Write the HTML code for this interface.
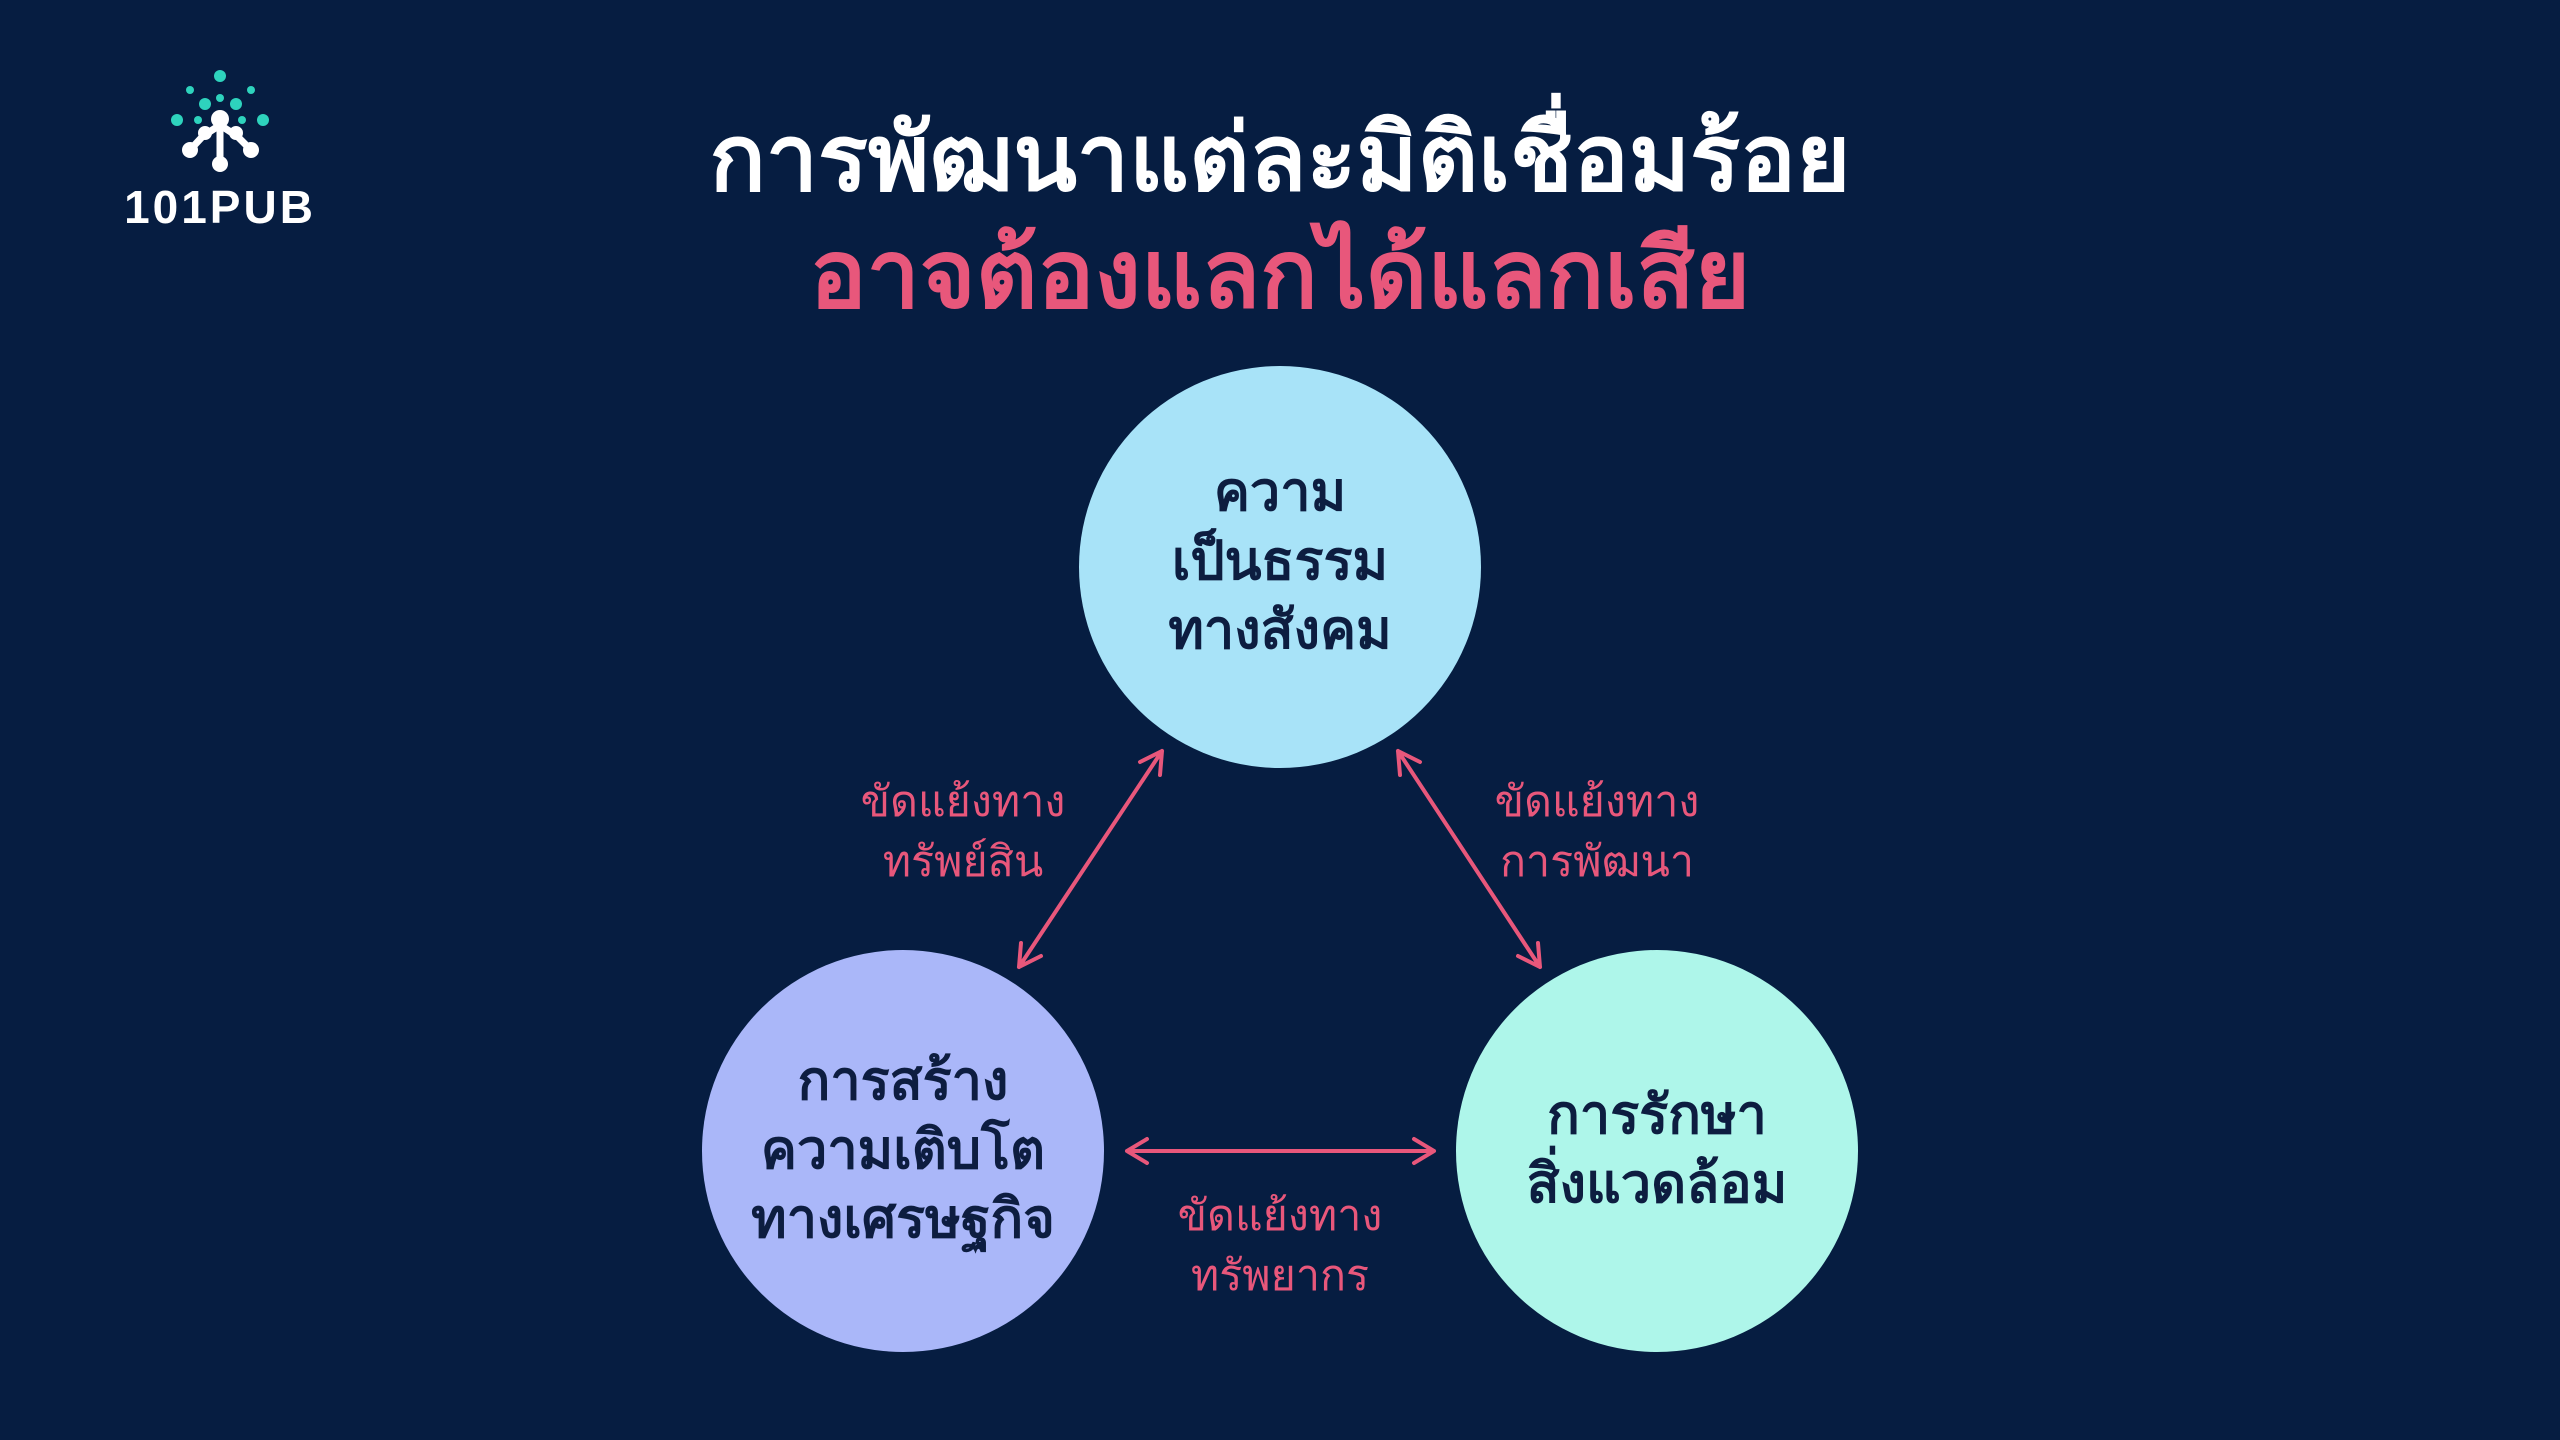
<!DOCTYPE html>
<html><head><meta charset="utf-8"><style>
body{margin:0;width:2560px;height:1440px;background:#061d41;overflow:hidden;position:relative;font-family:"Liberation Sans","Noto Sans CJK SC",sans-serif}
.t{position:absolute;left:0;width:2560px;text-align:center;font-weight:bold;line-height:1}
.c{position:absolute;width:402px;height:402px;border-radius:50%;display:flex;align-items:center;justify-content:center;text-align:center;color:#0d1d40;font-weight:bold;font-size:54px;line-height:69px;box-sizing:border-box}
.l{position:absolute;width:400px;text-align:center;color:#e8577b;font-size:43px;line-height:60px}
</style></head><body>
<div class="t" style="top:112px;color:#fff;font-size:93px">การพัฒนาแต่ละมิติเชื่อมร้อย</div>
<div class="t" style="top:228px;color:#e8577b;font-size:95px">อาจต้องแลกได้แลกเสีย</div>
<svg style="position:absolute;left:0;top:0" width="2560" height="1440">
<g fill="#2ed3bd">
<circle cx="220" cy="76" r="6"/><circle cx="190" cy="90" r="4"/><circle cx="251" cy="90" r="4"/>
<circle cx="205" cy="104" r="6"/><circle cx="220" cy="98" r="4"/><circle cx="236" cy="104" r="6"/>
<circle cx="177" cy="120" r="6"/><circle cx="198" cy="120" r="4"/><circle cx="242" cy="120" r="4"/><circle cx="263" cy="120" r="6"/>
</g>
<g stroke="#fff" stroke-width="7" fill="none" stroke-linecap="round">
<path d="M220 119 L220 165 M220 125 L203 136 L190 150 M220 125 L237 136 L251 150"/>
</g>
<g fill="#fff"><circle cx="220" cy="119" r="9"/><circle cx="190" cy="150" r="8"/><circle cx="251" cy="150" r="8"/><circle cx="220" cy="164" r="8"/><circle cx="205" cy="133" r="7"/><circle cx="236" cy="133" r="7"/></g>
<text x="220" y="223" fill="#fff" font-family="Liberation Sans" font-weight="bold" font-size="46" letter-spacing="3" text-anchor="middle">101PUB</text>
<g stroke="#e8577b" stroke-width="4" fill="none" stroke-linecap="round">
<path d="M1162 751 L1019 967 M1162 751 L1160 775 M1162 751 L1140 762 M1019 967 L1021 943 M1019 967 L1041 956"/>
<path d="M1398 751 L1540 967 M1398 751 L1400 775 M1398 751 L1420 762 M1540 967 L1538 943 M1540 967 L1518 956"/>
<path d="M1127 1151 L1434 1151 M1127 1151 L1147 1139 M1127 1151 L1147 1163 M1434 1151 L1414 1139 M1434 1151 L1414 1163"/>
</g>
</svg>
<div class="c" style="left:1079px;top:366px;background:#a8e3f8;padding-bottom:12px">ความ<br>เป็นธรรม<br>ทางสังคม</div>
<div class="c" style="left:702px;top:950px;background:#aab7f9;padding-bottom:2px">การสร้าง<br>ความเติบโต<br>ทางเศรษฐกิจ</div>
<div class="c" style="left:1456px;top:950px;background:#aef6ea;padding-bottom:2px">การรักษา<br>สิ่งแวดล้อม</div>
<div class="l" style="left:763px;top:772px">ขัดแย้งทาง<br>ทรัพย์สิน</div>
<div class="l" style="left:1397px;top:772px">ขัดแย้งทาง<br>การพัฒนา</div>
<div class="l" style="left:1080px;top:1186px">ขัดแย้งทาง<br>ทรัพยากร</div>
</body></html>
